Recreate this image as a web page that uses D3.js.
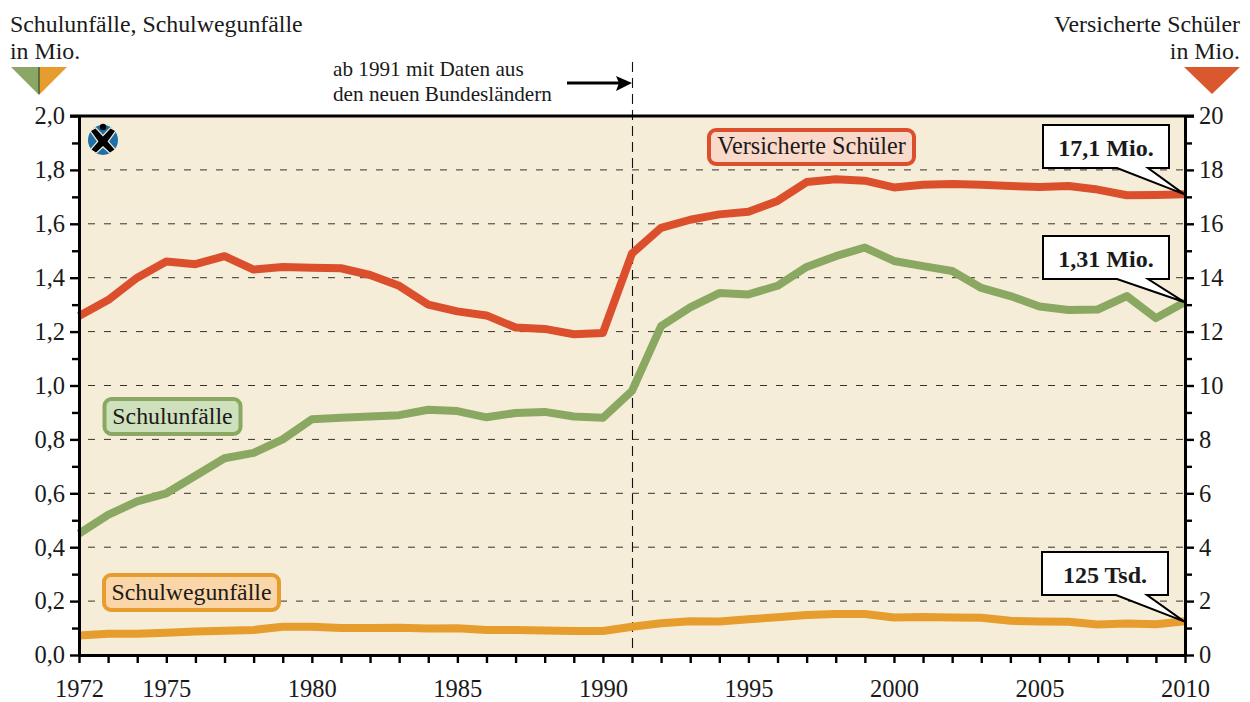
<!DOCTYPE html>
<html><head><meta charset="utf-8">
<style>
html,body{margin:0;padding:0;background:#fff}
svg{display:block}
text{font-family:"Liberation Serif","Times New Roman",serif;fill:#1a1a1a}
</style>
<script src="https://cdn.jsdelivr.net/npm/d3@7"></script>
</head><body><svg id="c" width="1250" height="702"></svg>
<script>
const years=d3.range(1972,2011);
const versicherte=[12.58,13.17,14.0,14.6,14.5,14.8,14.3,14.4,14.37,14.35,14.1,13.7,13.0,12.75,12.6,12.15,12.1,11.9,11.95,14.9,15.85,16.15,16.35,16.45,16.85,17.55,17.65,17.6,17.35,17.45,17.48,17.45,17.4,17.37,17.4,17.27,17.06,17.07,17.1];
const schulunfaelle=[0.45,0.52,0.57,0.60,0.665,0.73,0.75,0.80,0.875,0.88,0.885,0.89,0.91,0.905,0.882,0.898,0.902,0.885,0.88,0.98,1.22,1.29,1.343,1.338,1.37,1.44,1.48,1.512,1.462,1.443,1.425,1.362,1.332,1.293,1.28,1.282,1.332,1.25,1.31];
const schulweg=[0.072,0.079,0.079,0.083,0.087,0.09,0.093,0.105,0.105,0.10,0.10,0.101,0.098,0.099,0.093,0.093,0.091,0.089,0.089,0.105,0.118,0.125,0.124,0.133,0.14,0.148,0.152,0.152,0.139,0.141,0.139,0.138,0.127,0.124,0.123,0.113,0.117,0.114,0.125];
const xTickLabels=[1972,1975,1980,1985,1990,1995,2000,2005,2010];
const leftTicks=[0,0.2,0.4,0.6,0.8,1.0,1.2,1.4,1.6,1.8,2.0];
const rightTicks=[0,2,4,6,8,10,12,14,16,18,20];
const minorLeft=[0.1,0.3,0.5,0.7,0.9,1.1,1.3,1.5,1.7,1.9];
const minorRight=[1,3,5,7,9,11,13,15,17,19];

const L=79,R=1185,T=116,B=655;
const x=d3.scaleLinear().domain([1972,2010]).range([L,R]);
const yL=d3.scaleLinear().domain([0,2]).range([B,T]);
const yR=d3.scaleLinear().domain([0,20]).range([B,T]);
const svg=d3.select("#c");
const comma=d=>d3.format(".1f")(d).replace(".",",");
const INK="#000",RED="#dc4f2c",GREEN="#8aa862",ORANGE="#e79c2e";

svg.append("rect").attr("x",L).attr("y",T).attr("width",R-L).attr("height",B-T).attr("fill","#f5edd8");
// grid
svg.append("g").selectAll("line").data(leftTicks.slice(1,-1)).join("line")
 .attr("x1",L+9).attr("x2",R).attr("y1",yL).attr("y2",yL)
 .attr("stroke","#333").attr("stroke-width",1).attr("stroke-dasharray","7 9");
// 1991 marker
svg.append("line").attr("x1",x(1991)+.5).attr("x2",x(1991)+.5).attr("y1",62).attr("y2",B)
 .attr("stroke","#111").attr("stroke-width",1.1).attr("stroke-dasharray","10 6");
// series
const line=(yy)=>d3.line().x((d,i)=>x(years[i])).y(d=>yy(d)).curve(d3.curveLinear);
const plot=svg.append("g");
[[schulweg,yL,ORANGE],[schulunfaelle,yL,GREEN],[versicherte,yR,RED]].forEach(([d,yy,c])=>{
 plot.append("path").datum(d).attr("d",line(yy)).attr("fill","none").attr("stroke",c).attr("stroke-width",8).attr("stroke-linejoin","round");
});
// axes
function styleAxis(g){g.selectAll(".domain").attr("stroke",INK).attr("stroke-width",3);
 g.selectAll(".tick line").attr("stroke",INK).attr("stroke-width",2.4);
 g.selectAll("text").attr("font-size",24.5).attr("fill","#1a1a1a").style("font-family",'"Liberation Serif",serif');}
const gl=svg.append("g").attr("transform",`translate(${L},0)`);
gl.call(d3.axisLeft(yL).tickValues(leftTicks).tickFormat(comma).tickSize(9).tickPadding(5).tickSizeOuter(0));styleAxis(gl);
gl.append("g").call(d3.axisLeft(yL).tickValues(minorLeft).tickFormat("").tickSize(7).tickSizeOuter(0)).call(styleAxis).select(".domain").remove();
const gr=svg.append("g").attr("transform",`translate(${R},0)`);
gr.call(d3.axisRight(yR).tickValues(rightTicks).tickSize(9).tickPadding(5).tickSizeOuter(0));styleAxis(gr);
gr.append("g").call(d3.axisRight(yR).tickValues(minorRight).tickFormat("").tickSize(7).tickSizeOuter(0)).call(styleAxis).select(".domain").remove();
const gb=svg.append("g").attr("transform",`translate(0,${B})`);
gb.call(d3.axisBottom(x).tickValues(years).tickFormat(d=>xTickLabels.includes(d)?d:"").tickSize(8).tickPadding(17).tickSizeOuter(0));styleAxis(gb);
svg.append("line").attr("x1",L-9).attr("x2",R+9).attr("y1",T).attr("y2",T).attr("stroke",INK).attr("stroke-width",3);

// headers
const txt=(s,a,b,anchor="start",size=23.85,w=400)=>svg.append("text").attr("x",a).attr("y",b).attr("text-anchor",anchor).attr("font-size",size).attr("font-weight",w).text(s);
txt("Schulunfälle, Schulwegunfälle",10,31.5);txt("in Mio.",10,59);
txt("Versicherte Schüler",1240,31.5,"end");txt("in Mio.",1240,59,"end");
svg.append("path").attr("d","M11,67H39V95Z").attr("fill","#8ba766");
svg.append("path").attr("d","M39,67H67L39,95Z").attr("fill","#e79c2e");
svg.append("line").attr("x1",39).attr("x2",39).attr("y1",67).attr("y2",94).attr("stroke","#4d5a32").attr("stroke-width",1.5);
svg.append("path").attr("d","M1184,67H1240L1212,94Z").attr("fill","#d9582e");
// note
txt("ab 1991 mit Daten aus",333,76,"start",21.2);txt("den neuen Bundesländern",333,101,"start",21.2);
svg.append("line").attr("x1",567).attr("x2",622).attr("y1",83).attr("y2",83).attr("stroke",INK).attr("stroke-width",2.8);
svg.append("path").attr("d",`M${x(1991)},83L616,76L619,83L616,91Z`).attr("fill",INK);
// legend boxes
function box(a,b,w,h,s,stroke,fill,size){
 svg.append("rect").attr("x",a).attr("y",b).attr("width",w).attr("height",h).attr("rx",7).attr("fill",fill).attr("stroke",stroke).attr("stroke-width",4);
 svg.append("text").attr("x",a+w/2).attr("y",b+h/2+7).attr("text-anchor","middle").attr("font-size",size).text(s);
}
box(709,130,205,34,"Versicherte Schüler",RED,"#f9d9c9",24.2);
box(104.5,399,136,35,"Schulunfälle",GREEN,"#cfe0bd",23.8);
box(104,575,175,35,"Schulwegunfälle",ORANGE,"#fad6a8",23.8);
// callouts
function callout(a,b,w,h,s,px,py){
 const pts=[[a,b],[a+w,b],[a+w,b+h],[a+w-21,b+h],[px,py],[a+w-52,b+h],[a,b+h]];
 svg.append("path").attr("d",d3.line()(pts)+"Z").attr("fill","#fff").attr("stroke",INK).attr("stroke-width",2);
 svg.append("text").attr("x",a+w/2).attr("y",b+h/2+9).attr("text-anchor","middle").attr("font-size",24).attr("font-weight",700).attr("fill","#000").text(s);
}
callout(1043,125,126,43,"17,1 Mio.",R-1,yR(versicherte[38]));
callout(1043,236,126,43,"1,31 Mio.",R-1,yL(schulunfaelle[38]));
callout(1042,552,126,43,"125 Tsd.",R-1,yL(schulweg[38]));
// logo
const lg=svg.append("g").attr("transform","translate(103,140)");
lg.append("circle").attr("r",15).attr("fill","#1f6fa8");
lg.append("path").attr("d","M-12,-9L-7.5,-11.5L0,-3.5L7.5,-11.5L12,-9L4.5,1.5L11.5,9.5L7,12.5L0,6L-7,12.5L-11.5,9.5L-4.5,1.5Z").attr("fill","#000").attr("stroke","#f5edd8").attr("stroke-width",2.5).attr("paint-order","stroke");
lg.append("circle").attr("cy",-13).attr("r",3.2).attr("fill","#000");
</script></body></html>
